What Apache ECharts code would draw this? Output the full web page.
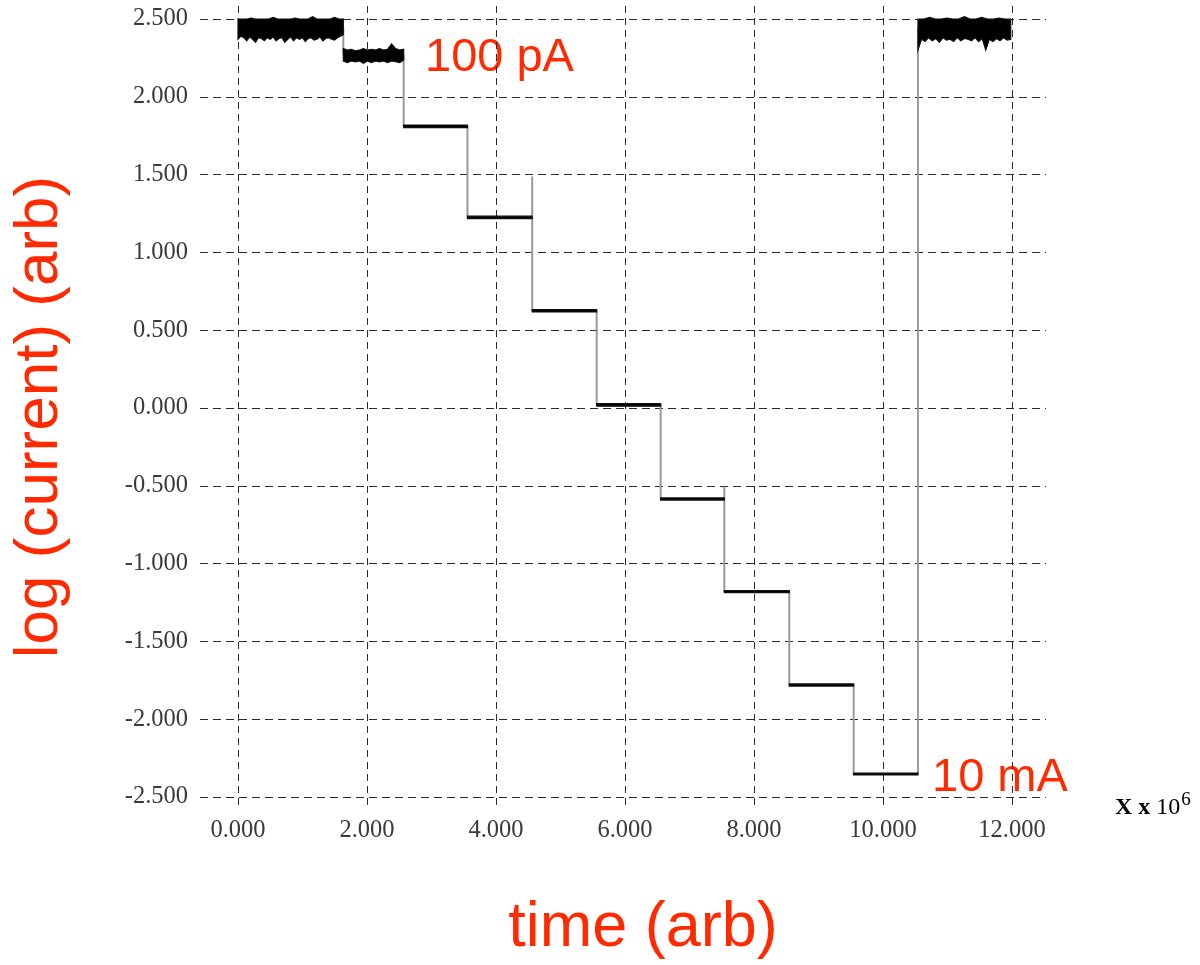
<!DOCTYPE html>
<html>
<head>
<meta charset="utf-8">
<script src="https://cdn.jsdelivr.net/npm/echarts@6/dist/echarts.min.js"></script>
<style>
html,body{margin:0;padding:0;background:#fff;}
#chart{width:1200px;height:965px;}
</style>
</head>
<body>
<div id="chart"></div>
<script>
// ---- data (time in units of 10^6, log current) ----
const xTicks = [0, 2, 4, 6, 8, 10, 12];
const yTicks = [-2.5, -2, -1.5, -1, -0.5, 0, 0.5, 1, 1.5, 2, 2.5];

const stepStart = [0, 1.633, 2.568, 3.558, 4.561, 5.561, 6.553, 7.540, 8.547, 9.545, 10.542];
const stepEnd   = [1.633, 2.568, 3.558, 4.561, 5.561, 6.553, 7.540, 8.547, 9.545, 10.542, 11.98];
const stepLevel = [2.44, 2.27, 1.81, 1.225, 0.625, 0.02, -0.585, -1.18, -1.78, -2.352, 2.44];
// overshoot of the transition into each level (null = none)
const stepSpike = [null, null, null, null, 1.487, null, null, -0.506, null, null, null];
// half-thickness of the noise on the quiet levels
const stepNoise = [0, 0, 0.008, 0.008, 0.008, 0.008, 0.007, 0.007, 0.007, 0.006, 0];

// hand-read noisy envelopes of the noisy levels
const noiseTop0    = [2.50, 2.50, 2.50, 2.505, 2.50, 2.50, 2.50, 2.50, 2.51, 2.50, 2.50, 2.50, 2.50, 2.505, 2.50, 2.50, 2.50, 2.515, 2.50, 2.50, 2.50, 2.50, 2.51, 2.50, 2.50];
const noiseBottom0 = [2.37, 2.39, 2.38, 2.36, 2.385, 2.37, 2.35, 2.38, 2.375, 2.36, 2.38, 2.37, 2.385, 2.36, 2.375, 2.38, 2.35, 2.37, 2.385, 2.36, 2.38, 2.37, 2.38, 2.355, 2.375, 2.38, 2.365, 2.37, 2.385, 2.36, 2.375, 2.38, 2.37, 2.365, 2.38, 2.39, 2.40];
const noiseTop1    = [2.31, 2.30, 2.305, 2.295, 2.30, 2.31, 2.30, 2.305, 2.30, 2.31, 2.30, 2.305, 2.34, 2.31, 2.30, 2.305];
const noiseBottom1 = [2.23, 2.22, 2.23, 2.225, 2.23, 2.215, 2.23, 2.22, 2.23, 2.225, 2.23, 2.22, 2.23, 2.225, 2.22, 2.235];
const noiseTop10    = [2.50, 2.50, 2.51, 2.50, 2.50, 2.505, 2.50, 2.50, 2.515, 2.50, 2.50, 2.51, 2.50, 2.50, 2.505, 2.50, 2.50];
const noiseBottom10 = [2.30, 2.37, 2.355, 2.38, 2.36, 2.375, 2.35, 2.38, 2.365, 2.37, 2.355, 2.38, 2.36, 2.375, 2.37, 2.36, 2.38, 2.355, 2.375, 2.30, 2.37, 2.355, 2.375, 2.36, 2.38, 2.365, 2.37];

const annotTop = '100 pA';
const annotBottom = '10 mA';
const xTitle = 'time (arb)';
const yTitle = 'log (current) (arb)';

// ---- build the trace ----
const trace = [[stepStart[0], stepLevel[0]]];
for (let i = 1; i < stepLevel.length; i++) {
  trace.push([stepStart[i], stepLevel[i - 1]]);
  if (stepSpike[i] !== null) trace.push([stepStart[i], stepSpike[i]]);
  trace.push([stepStart[i], stepLevel[i]]);
}
trace.push([stepEnd[stepEnd.length - 1], stepLevel[stepLevel.length - 1]]);

const bandTop = stepLevel.map((v, i) => [v + stepNoise[i], v + stepNoise[i]]);
const bandBottom = stepLevel.map((v, i) => [v - stepNoise[i], v - stepNoise[i]]);
bandTop[0] = noiseTop0; bandBottom[0] = noiseBottom0;
bandTop[1] = noiseTop1; bandBottom[1] = noiseBottom1;
bandTop[10] = noiseTop10; bandBottom[10] = noiseBottom10;

const RED = '#ff2a00';
const GRID = '#2a2a2a';
const labelFont = 'Liberation Serif';

const chart = echarts.init(document.getElementById('chart'), null, {renderer: 'canvas'});
chart.setOption({
  animation: false,
  backgroundColor: '#fff',
  grid: {left: 200, right: 154, top: 6, bottom: 155, containLabel: false},
  xAxis: {
    type: 'value',
    min: -0.589, max: 12.527,
    axisLine: {show: false},
    axisTick: {show: false, customValues: xTicks},
    axisLabel: {
      customValues: xTicks, margin: 8,
      formatter: v => v.toFixed(3),
      fontFamily: labelFont, fontSize: 24.5, color: '#3a3a3a'
    },
    splitLine: {show: true, lineStyle: {color: GRID, width: 1, type: [7, 5]}}
  },
  yAxis: {
    type: 'value',
    min: -2.5835, max: 2.5835,
    axisLine: {show: false},
    axisTick: {show: false, customValues: yTicks},
    axisLabel: {
      customValues: yTicks, margin: 12,
      formatter: v => v.toFixed(3),
      fontFamily: labelFont, fontSize: 24.5, color: '#3a3a3a'
    },
    splitLine: {show: true, lineStyle: {color: GRID, width: 1, type: [8, 5]}}
  },
  series: [
    {
      type: 'line',
      data: trace,
      showSymbol: false,
      symbol: 'none',
      lineStyle: {color: '#999999', width: 2},
      z: 3
    },
    {
      type: 'custom',
      data: stepLevel.map((v, i) => [stepStart[i], v]),
      encode: {x: 0, y: 1},
      z: 4,
      renderItem: function (params, api) {
        const i = params.dataIndex;
        const s = stepStart[i], e = stepEnd[i];
        const top = bandTop[i], bot = bandBottom[i];
        const pts = [];
        top.forEach((v, k) => pts.push(api.coord([s + (e - s) * k / (top.length - 1), v])));
        for (let k = bot.length - 1; k >= 0; k--) {
          pts.push(api.coord([s + (e - s) * k / (bot.length - 1), bot[k]]));
        }
        return {type: 'polygon', shape: {points: pts},
          style: {fill: '#000', stroke: '#111', lineWidth: 1.2}};
      }
    }
  ],
  graphic: [
    {type: 'text', x: 40, y: 417, rotation: Math.PI / 2,
     style: {text: yTitle, fill: RED, font: '62px "Liberation Sans"', align: 'center', verticalAlign: 'middle'}},
    {type: 'text', x: 643, y: 929,
     style: {text: xTitle, fill: RED, font: '63px "Liberation Sans"', align: 'center', verticalAlign: 'middle'}},
    {type: 'text', x: 425, y: 58,
     style: {text: annotTop, fill: RED, font: '47px "Liberation Sans"', align: 'left', verticalAlign: 'middle'}},
    {type: 'text', x: 932, y: 778,
     style: {text: annotBottom, fill: RED, font: '47px "Liberation Sans"', align: 'left', verticalAlign: 'middle'}},
    {type: 'text', x: 1115, y: 808,
     style: {text: '{a|X x }{c|10}{b|6}', verticalAlign: 'middle', align: 'left',
       rich: {a: {fontFamily: labelFont, fontSize: 24, fontWeight: 'bold', color: '#1a1a1a'},
              c: {fontFamily: labelFont, fontSize: 24, color: '#1a1a1a'},
              b: {fontFamily: labelFont, fontSize: 19, color: '#1a1a1a', padding: [0, 0, 15, 1]}}}}
  ]
});
</script>
</body>
</html>
